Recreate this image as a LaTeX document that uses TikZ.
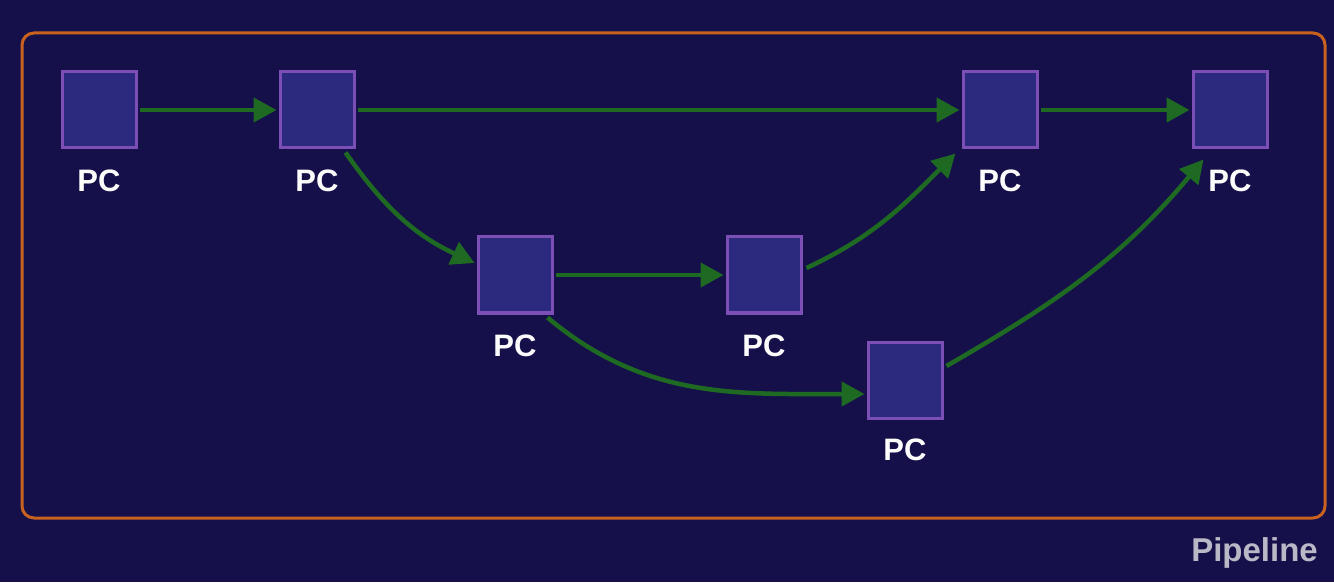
\documentclass[tikz,border=0pt]{standalone}
\usepackage{fontspec}
\setmainfont{Liberation Sans}
\usetikzlibrary{arrows.meta}
\definecolor{bgc}{HTML}{15104A}
\definecolor{boxfill}{HTML}{2B2A7E}
\definecolor{boxline}{HTML}{7B4FB5}
\definecolor{framec}{HTML}{C9621F}
\definecolor{arrc}{HTML}{1F6A22}
\definecolor{labc}{HTML}{B9B8C6}
\begin{document}
\begin{tikzpicture}[x=1pt,y=1pt,
  pcbox/.style={draw=boxline,line width=3pt,fill=boxfill,minimum width=74pt,minimum height=76pt,inner sep=0pt},
  pclab/.style={text=white,font=\fontsize{31}{31}\selectfont\bfseries,inner sep=0pt},
  conn/.style={draw=arrc,line width=4.5pt,-{Triangle[length=23pt,width=24pt]}}]
\fill[bgc] (0,0) rectangle (1334,582);
\useasboundingbox (0,0) rectangle (1334,582);
\draw[framec,line width=3pt,rounded corners=12pt] (22,549) rectangle (1325,64);
\node[pcbox] (b1) at (99,472) {};
\node[pcbox] (b2) at (317,472) {};
\node[pcbox] (b3) at (515,307) {};
\node[pcbox] (b4) at (764,307) {};
\node[pcbox] (b5) at (905,202) {};
\node[pcbox] (b6) at (1000,472) {};
\node[pcbox] (b7) at (1230,472) {};
\node[pclab] (l1) at (99,401) {PC};
\node[pclab] (l2) at (317,401) {PC};
\node[pclab] (l3) at (515,236) {PC};
\node[pclab] (l4) at (764,236) {PC};
\node[pclab] (l5) at (905,132) {PC};
\node[pclab] (l6) at (1000,401) {PC};
\node[pclab] (l7) at (1230,401) {PC};
\node[text=labc,font=\fontsize{33}{33}\selectfont\bfseries,inner sep=0pt,anchor=east] (pl) at (1318,29) {Pipeline};
\draw[conn] ([xshift=2pt]b1.east) -- ([xshift=-2pt]b2.west);
\draw[conn] ([xshift=2pt]b2.east) -- ([xshift=-2pt]b6.west);
\draw[conn] ([xshift=2pt]b6.east) -- ([xshift=-2pt]b7.west);
\draw[conn] ([xshift=-10pt,yshift=-3pt]b2.south east) to[out=-55,in=155] ([xshift=-2pt,yshift=12pt]b3.west);
\draw[conn] ([xshift=2pt]b3.east) -- ([xshift=-2pt]b4.west);
\draw[conn] ([xshift=4pt,yshift=7pt]b4.east) to[out=25,in=-135] ([xshift=-6pt,yshift=-4pt]b6.south west);
\draw[conn] ([xshift=-6pt,yshift=-3pt]b3.south east) to[out=-40,in=180] ([xshift=-2pt,yshift=-14pt]b5.west);
\draw[conn] ([xshift=3pt,yshift=14pt]b5.east) to[out=30,in=-130] ([xshift=12pt,yshift=-10pt]b7.south west);
\end{tikzpicture}
\end{document}
